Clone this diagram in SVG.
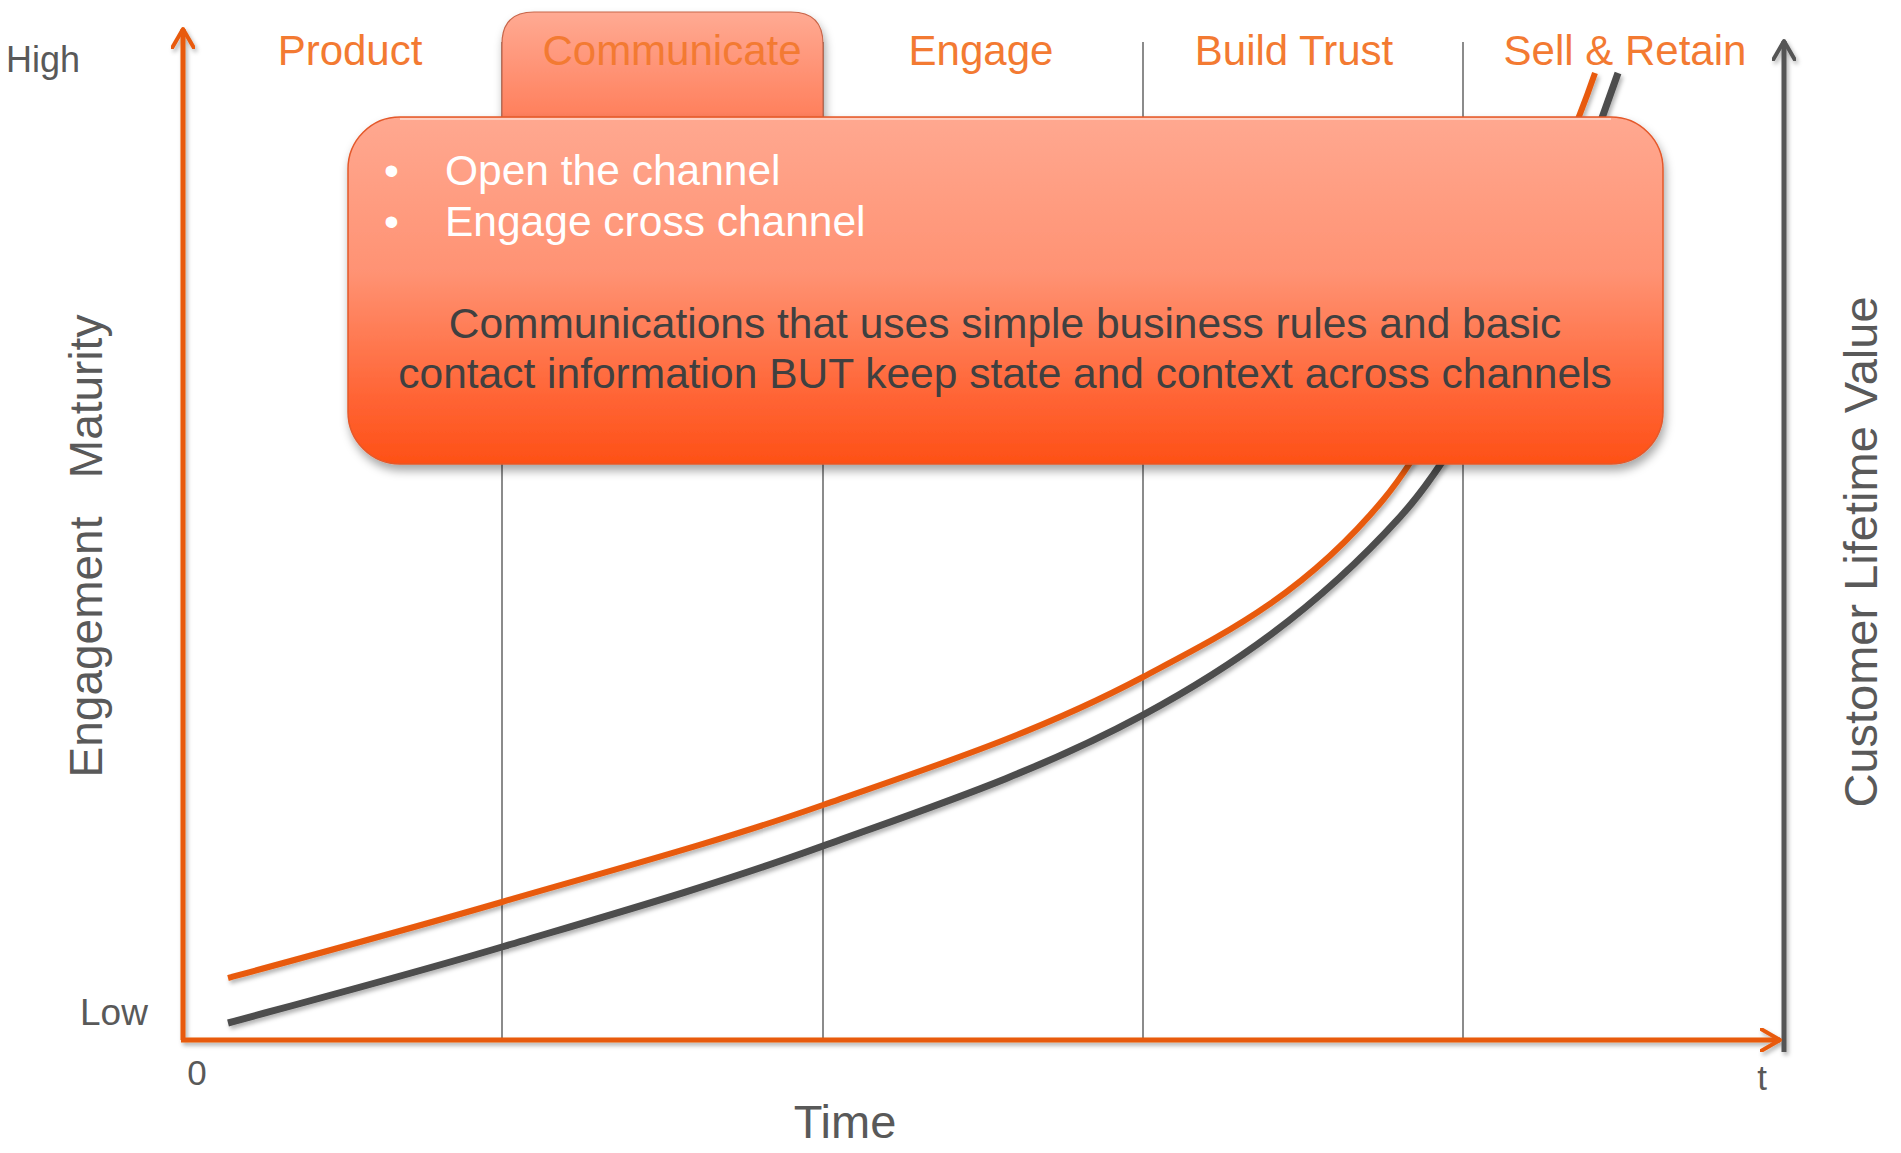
<svg xmlns="http://www.w3.org/2000/svg" width="1901" height="1153" viewBox="0 0 1901 1153">
  <defs>
    <linearGradient id="boxGrad" x1="0" y1="0" x2="0" y2="1">
      <stop offset="0" stop-color="#FFA890"/>
      <stop offset="0.45" stop-color="#FF9273"/>
      <stop offset="0.8" stop-color="#FF6536"/>
      <stop offset="1" stop-color="#FE5016"/>
    </linearGradient>
    <linearGradient id="tabGrad" x1="0" y1="0" x2="0" y2="1">
      <stop offset="0" stop-color="#FFAA93"/>
      <stop offset="1" stop-color="#FF7650"/>
    </linearGradient>
    <filter id="lineShadow" x="-10%" y="-10%" width="120%" height="120%">
      <feDropShadow dx="2" dy="3" stdDeviation="2" flood-color="#000" flood-opacity="0.3"/>
    </filter>
    <filter id="boxShadow" x="-5%" y="-10%" width="110%" height="125%">
      <feDropShadow dx="2" dy="6" stdDeviation="5" flood-color="#000" flood-opacity="0.35"/>
    </filter>
    <marker id="arrowOrange" viewBox="0 0 24 24" markerWidth="24" markerHeight="24" refX="20" refY="12" orient="auto" markerUnits="userSpaceOnUse">
      <path d="M1,1 L20,12 L1,23" fill="none" stroke="#E85A0C" stroke-width="4" stroke-linecap="round" stroke-linejoin="round"/>
    </marker>
    <marker id="arrowGray" viewBox="0 0 24 24" markerWidth="24" markerHeight="24" refX="20" refY="12" orient="auto" markerUnits="userSpaceOnUse">
      <path d="M1,1 L20,12 L1,23" fill="none" stroke="#555555" stroke-width="4" stroke-linecap="round" stroke-linejoin="round"/>
    </marker>
  </defs>
  <style>
    .grid { stroke: #6E6E6E; stroke-width: 1.6; fill: none; }
    .head { font-family: "Liberation Sans", Arial, sans-serif; font-size: 42px; fill: #F37A32; text-anchor: middle; }
    .axisLbl { font-family: "Liberation Sans", Arial, sans-serif; fill: #595959; }
    .bullet { font-family: "Liberation Sans", Arial, sans-serif; font-size: 42.5px; fill: #FFFFFF; }
    .body { font-family: "Liberation Sans", Arial, sans-serif; font-size: 42.5px; fill: #404040; text-anchor: middle; }
  </style>

  <rect width="1901" height="1153" fill="#FFFFFF"/>

  <g id="gridlines">
    <line class="grid" x1="502" y1="42" x2="502" y2="1040"/>
    <line class="grid" x1="823" y1="42" x2="823" y2="1040"/>
    <line class="grid" x1="1143" y1="42" x2="1143" y2="1040"/>
    <line class="grid" x1="1463" y1="42" x2="1463" y2="1040"/>
  </g>

  <g id="axes" filter="url(#lineShadow)">
    <line x1="1784" y1="1052" x2="1784" y2="41" stroke="#555555" stroke-width="5" marker-end="url(#arrowGray)"/>
    <line x1="183" y1="1040" x2="183" y2="29" stroke="#E85A0C" stroke-width="5" marker-end="url(#arrowOrange)"/>
    <line x1="181" y1="1040" x2="1780" y2="1040" stroke="#E85A0C" stroke-width="5" marker-end="url(#arrowOrange)"/>
  </g>

  <g id="connectors" filter="url(#lineShadow)" fill="none">
    <path id="curve-clv" stroke="#4D4D4D" stroke-width="7" d="M228,1023 C319.3,998.3 410.7,974.1 502,947 C609,915.2 716,884.7 823,846 C929.7,807.4 1036.3,772.6 1143,715 C1228.7,668.7 1314.3,611.3 1400,517 C1445.7,466.7 1491.3,385.1 1537,280 C1564,217.9 1591,151.3 1618,73"/>
    <path id="curve-maturity" stroke="#E85A0C" stroke-width="6" d="M228,978 C319.3,953.3 410.7,928.6 502,902 C609,870.9 716,842.6 823,805 C929.7,767.5 1036.3,733.6 1143,677 C1223,634.6 1303,596 1383,500 C1422,453.2 1461,375.8 1500,290 C1531.7,220.3 1563.3,164.9 1595,73"/>
  </g>

  <g id="tab-communicate">
    <path d="M502,140 V44 Q502,12 534,12 H791 Q823,12 823,44 V140 Z" fill="url(#tabGrad)" stroke="#C8664A" stroke-width="1.2" filter="url(#boxShadow)"/>
    <text class="head" x="672" y="65">Communicate</text>
  </g>

  <g id="header-labels">
    <text class="head" x="350" y="65">Product</text>
    <text class="head" x="981" y="65">Engage</text>
    <text class="head" x="1294" y="65">Build Trust</text>
    <text class="head" x="1625" y="65">Sell &amp; Retain</text>
  </g>

  <g id="box-communicate">
    <rect x="348" y="117" width="1315" height="347" rx="52" ry="52" fill="url(#boxGrad)" stroke="#E4582A" stroke-width="1.5" filter="url(#boxShadow)"/>
    <path d="M400,119 H1611" stroke="#FFE0D4" stroke-width="2" opacity="0.7" fill="none"/>
    <text class="bullet" x="384" y="185">•</text>
    <text class="bullet" x="445" y="185">Open the channel</text>
    <text class="bullet" x="384" y="236">•</text>
    <text class="bullet" x="445" y="236">Engage cross channel</text>
    <text class="body" x="1005" y="338">Communications that uses simple business rules and basic</text>
    <text class="body" x="1005" y="388">contact information BUT keep state and context across channels</text>
  </g>

  <g id="axis-labels">
    <text class="axisLbl" x="6" y="72" font-size="36">High</text>
    <text class="axisLbl" x="80" y="1025" font-size="37">Low</text>
    <text class="axisLbl" x="197" y="1085" font-size="35" text-anchor="middle">0</text>
    <text class="axisLbl" x="1762" y="1090" font-size="35" text-anchor="middle">t</text>
    <text class="axisLbl" x="845" y="1138" font-size="47" text-anchor="middle">Time</text>
    <text class="axisLbl" font-size="46" text-anchor="middle" xml:space="preserve" style="white-space:pre" transform="translate(102,546) rotate(-90)">Engagement   Maturity</text>
    <text class="axisLbl" font-size="47" text-anchor="middle" transform="translate(1877,552) rotate(-90)">Customer Lifetime Value</text>
  </g>
</svg>
